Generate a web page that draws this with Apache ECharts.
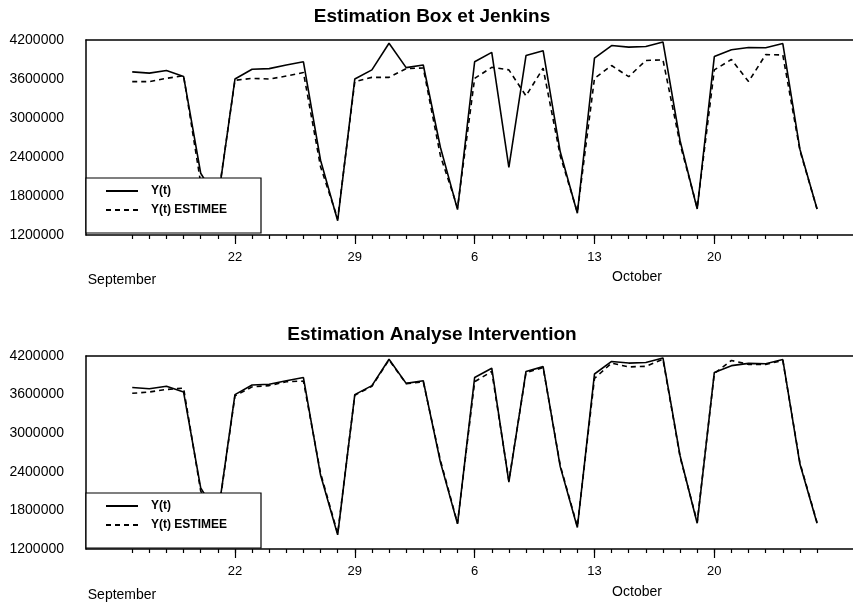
<!DOCTYPE html>
<html>
<head>
<meta charset="utf-8">
<title>Estimation Box et Jenkins / Analyse Intervention</title>
<script src="https://cdn.jsdelivr.net/npm/echarts@6.0.0/dist/echarts.min.js"></script>
<style>
  html, body { margin: 0; padding: 0; background: #fff; }
  #chart { width: 853px; height: 605px; }
</style>
</head>
<body>
<div id="chart"></div>
<script>
  // jours numerotes : septembre = jour, octobre = 30 + jour
  var firstDay = 16; // 16 septembre

  // Y(t) observe, du 16 sept. au 26 oct.
  var yObserve = [
    3710000, 3690000, 3730000, 3640000, 2150000, 1720000,
    3600000, 3750000, 3760000, 3815000, 3865000, 2350000, 1420000,
    3600000, 3740000, 4150000, 3775000, 3815000, 2550000, 1590000,
    3865000, 4010000, 2240000, 3960000, 4035000, 2480000, 1535000,
    3920000, 4115000, 4090000, 4100000, 4170000, 2650000, 1600000,
    3945000, 4050000, 4085000, 4080000, 4145000, 2520000, 1600000
  ];

  // Y(t) estimee - modele Box et Jenkins
  var yBoxJenkins = [
    3560000, 3560000, 3610000, 3650000, 2000000, 1750000,
    3580000, 3610000, 3600000, 3645000, 3700000, 2250000, 1450000,
    3560000, 3625000, 3625000, 3760000, 3770000, 2420000, 1620000,
    3610000, 3780000, 3740000, 3340000, 3765000, 2420000, 1550000,
    3610000, 3807000, 3636000, 3885000, 3895000, 2600000, 1620000,
    3740000, 3900000, 3560000, 3975000, 3970000, 2500000, 1600000
  ];

  // Y(t) estimee - analyse d'intervention
  var yIntervention = [
    3620000, 3640000, 3680000, 3700000, 2100000, 1700000,
    3580000, 3720000, 3740000, 3800000, 3810000, 2380000, 1440000,
    3590000, 3730000, 4140000, 3770000, 3800000, 2580000, 1600000,
    3800000, 3960000, 2260000, 3940000, 4020000, 2500000, 1550000,
    3850000, 4090000, 4030000, 4040000, 4150000, 2630000, 1620000,
    3930000, 4130000, 4070000, 4070000, 4130000, 2540000, 1610000
  ];

  var labelDays = [22, 29, 36, 43, 50]; // 22, 29 sept. / 6, 13, 20 oct.
  var monthNames = ['September', 'October'];
  var titles = ['Estimation Box et Jenkins', 'Estimation Analyse Intervention'];
  var legendNames = ['Y(t)', 'Y(t) ESTIMEE'];

  var FONT = '"Liberation Sans", Arial, sans-serif';

  function toPairs(values) {
    return values.map(function (v, i) { return [firstDay + i, v]; });
  }
  var allDays = yObserve.map(function (v, i) { return firstDay + i; });

  function dayLabel(d) {
    return d > 30 ? String(d - 30) : String(d);
  }

  var panels = [
    {top: 40, height: 195, est: yBoxJenkins, legendTop: 178, titleY: 17, monthY: [280, 277]},
    {top: 356, height: 193, est: yIntervention, legendTop: 493, titleY: 335, monthY: [595, 592]}
  ];

  var grid = [], xAxis = [], yAxis = [], series = [], legend = [], graphic = [];

  panels.forEach(function (p, g) {
    grid.push({left: 86, right: 0, top: p.top, height: p.height});

    // axe du bas : petites graduations journalieres
    xAxis.push({
      gridIndex: g, type: 'value', min: 13.3, max: 58.1, position: 'bottom',
      axisLine: {show: true, lineStyle: {color: '#000', width: 1.5}},
      axisTick: {show: true, customValues: allDays, length: 4, lineStyle: {color: '#000', width: 1.2}},
      axisLabel: {show: false},
      splitLine: {show: false}
    });
    // grandes graduations + libelles
    xAxis.push({
      gridIndex: g, type: 'value', min: 13.3, max: 58.1, position: 'bottom',
      axisLine: {show: false},
      axisTick: {show: true, customValues: labelDays, length: 9, lineStyle: {color: '#000', width: 1.2}},
      axisLabel: {
        show: true, customValues: labelDays, margin: 16,
        formatter: dayLabel, color: '#000', fontSize: 13, fontFamily: FONT
      },
      splitLine: {show: false}
    });
    // trait du haut
    xAxis.push({
      gridIndex: g, type: 'value', min: 13.3, max: 58.1, position: 'top',
      axisLine: {show: true, lineStyle: {color: '#000', width: 1.5}},
      axisTick: {show: false}, axisLabel: {show: false}, splitLine: {show: false}
    });

    yAxis.push({
      gridIndex: g, type: 'value', min: 1200000, max: 4200000, interval: 600000,
      axisLine: {show: true, lineStyle: {color: '#000', width: 1.5}},
      axisTick: {show: false},
      axisLabel: {
        color: '#000', fontSize: 14, fontFamily: FONT, margin: 22,
        formatter: function (v) { return String(v); }
      },
      splitLine: {show: false}
    });

    series.push({
      name: legendNames[0], type: 'line', xAxisIndex: g * 3, yAxisIndex: g,
      data: toPairs(yObserve), symbol: 'none', z: 3, color: '#000',
      lineStyle: {color: '#000', width: 1.6}
    });
    series.push({
      name: legendNames[1], type: 'line', xAxisIndex: g * 3, yAxisIndex: g,
      data: toPairs(p.est), symbol: 'none', z: 2, color: '#000',
      lineStyle: {color: '#000', width: 1.6, type: [5, 4]}
    });

    legend.push({
      data: legendNames, orient: 'vertical', left: 86, top: p.legendTop,
      padding: [7, 34, 17, 19], itemGap: 7, itemWidth: 32, itemHeight: 14,
      backgroundColor: '#fff', borderColor: '#000', borderWidth: 1.2,
      selectedMode: false, z: 10,
      itemStyle: {opacity: 0},
      textStyle: {color: '#000', fontSize: 12, fontWeight: 'bold', fontFamily: FONT, padding: [0, 0, 0, 8]}
    });

    graphic.push({
      type: 'text', x: 432, y: p.titleY,
      style: {text: titles[g], align: 'center', verticalAlign: 'middle',
        fontSize: 19, fontWeight: 'bold', fontFamily: FONT, fill: '#000'}
    });
    graphic.push({
      type: 'text', x: 122, y: p.monthY[0],
      style: {text: monthNames[0], align: 'center', verticalAlign: 'middle',
        fontSize: 14, fontFamily: FONT, fill: '#000'}
    });
    graphic.push({
      type: 'text', x: 637, y: p.monthY[1],
      style: {text: monthNames[1], align: 'center', verticalAlign: 'middle',
        fontSize: 14, fontFamily: FONT, fill: '#000'}
    });
  });

  var myChart = echarts.init(document.getElementById('chart'));
  myChart.setOption({
    backgroundColor: '#fff',
    animation: false,
    grid: grid,
    xAxis: xAxis,
    yAxis: yAxis,
    legend: legend,
    graphic: graphic,
    series: series
  });
</script>
</body>
</html>
